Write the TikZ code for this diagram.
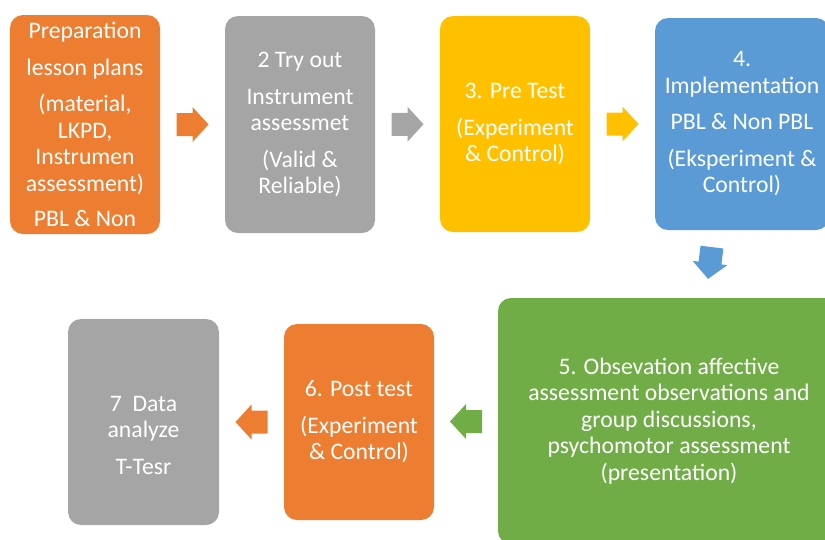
\documentclass[tikz,border=0pt]{standalone}
\usepackage{fontspec}
\setmainfont{Carlito}
\usetikzlibrary{calc}
\definecolor{corange}{HTML}{ED7D31}
\definecolor{cgray}{HTML}{A5A5A5}
\definecolor{cyellow}{HTML}{FFC000}
\definecolor{cblue}{HTML}{5B9BD5}
\definecolor{cgreen}{HTML}{70AD47}
\tikzset{
  stepbox/.style={rectangle, rounded corners=13pt, inner sep=0pt, text=white,
    align=center, font=\fontsize{23.7}{26.5}\selectfont},
  steptext/.style={inner sep=0pt, text=white, align=center,
    font=\fontsize{23.7}{26.5}\selectfont},
  blockarrow/.pic={\fill[pic actions] (-16,-11.5) -- (0,-11.5) -- (0,-17.5) -- (16,0)
     -- (0,17.5) -- (0,11.5) -- (-16,11.5) -- cycle;}
}
\begin{document}
\begin{tikzpicture}[x=1pt,y=-1pt]
\useasboundingbox (0,0) rectangle (825,539);
\clip (0,0) rectangle (825,539);
\node[stepbox, fill=corange, minimum width=150pt, minimum height=219pt] (b1) at (85,124.5)
  {Preparation\\[10pt] lesson plans\\[10pt] (material,\\ LKPD,\\ Instrumen\\ assessment)\\[9pt] PBL \& Non};
\node[stepbox, fill=cgray, minimum width=150pt, minimum height=217pt] (b2) at (300,124.5)
  {2 Try out\\[10pt] Instrument\\ assessmet\\[10pt] (Valid \&\\ Reliable)};
\node[stepbox, fill=cyellow, minimum width=150pt, minimum height=216pt] (b3) at (515,124)
  {3. Pre Test\\[10pt] (Experiment\\ \& Control)};
\node[stepbox, fill=cblue, minimum width=174pt, minimum height=212pt] (b4) at (742,124)
  {4.\\ Implementation\\[10pt] PBL \& Non PBL\\[10pt] (Eksperiment \&\\ Control)};
\node[stepbox, fill=cgreen, minimum width=342pt, minimum height=246pt] (b5) at (669,421)
  {5. Obsevation affective\\ assessment observations and\\ group discussions,\\ psychomotor assessment\\ (presentation)};
\node[stepbox, fill=corange, minimum width=150pt, minimum height=196pt] (b6) at (359,422)
  {6. Post test\\[10pt] (Experiment\\ \& Control)};
\node[stepbox, fill=cgray, minimum width=151pt, minimum height=206pt] (b7) at (143.5,422) {};
\node[steptext] (t7) at (143.5,435) {7\ \ Data\\ analyze\\[10pt] T-Tesr};
\pic[fill=corange] (a1) at ($(b1.east)!0.5!(b2.west)$) {blockarrow};
\pic[fill=cgray] (a2) at ($(b2.east)!0.5!(b3.west)$) {blockarrow};
\pic[fill=cyellow] (a3) at ($(b3.east)!0.5!(b4.west)$) {blockarrow};
\pic[fill=cblue, rotate=263] (a4) at (710,263) {blockarrow};
\pic[fill=cgreen, rotate=180] (a5) at ($(b5.west)!0.5!(b6.east)$) {blockarrow};
\pic[fill=corange, rotate=180] (a6) at ($(b6.west)!0.5!(b7.east)$) {blockarrow};
\end{tikzpicture}
\end{document}
